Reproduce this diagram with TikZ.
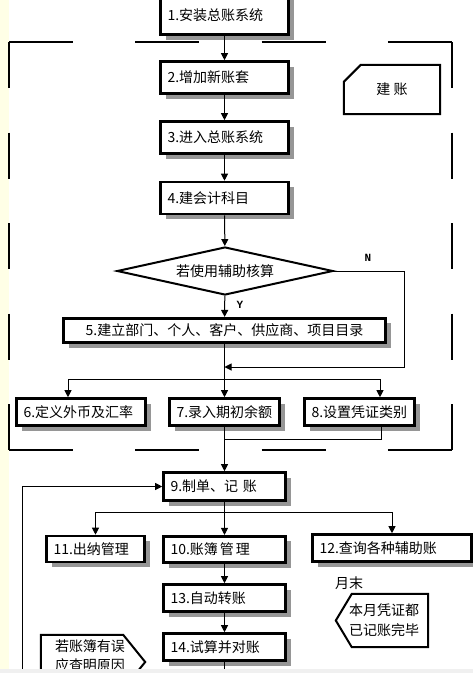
\documentclass[tikz,border=0pt]{standalone}
\usepackage{fontspec}
\setmainfont{Noto Sans CJK SC}
\newfontfamily\ynfont{Liberation Mono}
\usetikzlibrary{shapes.geometric,shadows,arrows.meta}
\definecolor{shgray}{RGB}{150,150,150}
\definecolor{creamy}{RGB}{255,255,230}
\definecolor{lightbar}{RGB}{240,240,240}

\begin{document}
\begin{tikzpicture}[x=1pt,y=-1pt,
  font=\fontsize{14}{20}\selectfont,
  proc/.style={draw, line width=2.6pt, fill=white, text width=#1, align=left,
    inner xsep=7pt, inner ysep=0pt, minimum height=27pt,
    drop shadow={shadow xshift=5pt, shadow yshift=-5pt, fill=shgray, opacity=1}},
  flow/.style={-{Triangle[length=7pt,width=7pt]}, line width=1pt},
  grpline/.style={line width=2.6pt},
  yn/.style={font=\ynfont\bfseries\fontsize{11}{12}\selectfont}]
\useasboundingbox (0,0) rectangle (473,673);
\clip (0,0) rectangle (473,673);
\fill[creamy] (0,0) rectangle (8.5,673);

\draw[grpline, dash pattern=on 64pt off 62.3pt] (9,42) -- (452,42);
\draw[grpline, dash pattern=on 64pt off 62.3pt] (9,450) -- (452,450);
\draw[grpline, dash pattern=on 46pt off 44.5pt] (9,42) -- (9,450);
\draw[grpline, dash pattern=on 46pt off 44.5pt] (452,42) -- (452,450);

\node[proc=114pt, minimum height=40pt] (b1) at (224.5,14.7) {1.安装总账系统};
\node[proc=114pt, minimum height=32pt] (b2) at (224.5,77.5) {2.增加新账套};
\node[proc=114pt, minimum height=32pt] (b3) at (224.5,137.5) {3.进入总账系统};
\node[proc=114pt, minimum height=32pt] (b4) at (224.5,198) {4.建会计科目};
\node[draw, diamond, line width=2pt, inner sep=0pt, aspect=4.5,
  minimum width=216pt, minimum height=48pt] (dia) at (225,271) {若使用辅助核算};
\node[proc=308pt, align=center, minimum height=24.5pt] (b5) at (224.5,330.5) {5.建立部门、个人、客户、供应商、项目目录};
\node[proc=115pt] (b6) at (81,412) {6.定义外币及汇率};
\node[proc=96pt] (b7) at (224.5,412) {7.录入期初余额};
\node[proc=96pt] (b8) at (359.5,412) {8.设置凭证类别};
\node[proc=108pt, minimum height=28pt] (b9) at (224.5,486.5) {9.制单、记\ 账};
\node[proc=84pt, minimum height=26pt] (b11) at (95.5,549) {11.出纳管理};
\node[proc=108pt, minimum height=26.5pt] (b10) at (224.5,549.5) {10.账簿\hspace{2pt}管\hspace{2pt}理};
\node[proc=145pt] (b12) at (392,548) {12.查询各种辅助账};
\node[proc=108pt] (b13) at (224.5,598) {13.自动转账};
\node[proc=108pt] (b14) at (224.5,647) {14.试算并对账};

\node[minimum width=96pt, minimum height=49pt] (jz) at (392,89.5) {建\ 账};
\draw[line width=2pt] ([yshift=-17pt]jz.north west) -- ([xshift=17pt]jz.north west)
  -- (jz.north east) -- (jz.south east) -- (jz.south west) -- cycle;

\node (ym) at (349,583) {月末};
\node[minimum width=92pt, minimum height=53pt, align=center] (yb) at (382,620.5) {\hspace{4pt}本月凭证都\\\hspace{4pt}已记账完毕};
\draw[line width=2pt] ([xshift=16pt]yb.north west) -- (yb.north east) -- (yb.south east)
  -- ([xshift=16pt]yb.south west) -- (yb.west) -- cycle;

\node[minimum width=104pt, minimum height=54pt] (cw) at (93,662) {};
\node[align=center, font=\fontsize{14}{19}\selectfont] (cwt) at (90,656) {若账簿有误\\应查明原因};
\draw[line width=2pt] (cw.north west) -- ([xshift=-22pt]cw.north east) -- (cw.east)
  -- ([xshift=-22pt]cw.south east) -- (cw.south west) -- cycle;

\node[yn] (nlab) at (368,258) {N};
\node[yn] (ylab) at (240,305) {Y};

\coordinate (merge) at (224.5,367);
\coordinate (fork1) at (224.5,379);
\coordinate (join1) at (224.5,439);
\coordinate (fork2) at (224.5,512);
\coordinate (bend) at (404,271);
\coordinate (tail) at (224.5,690);
\coordinate (loop) at (22,690);

\draw[flow] (b1) -- (b2);
\draw[flow] (b2) -- (b3);
\draw[flow] (b3) -- (b4);
\draw[flow] (b4) -- (dia);
\draw[flow] (dia) -- (b5);
\draw[line width=1pt] (dia.east) -- (bend) |- ([xshift=5pt]merge);
\draw[flow] (bend |- merge) -- (merge);
\draw[line width=1pt] (b5) -- (fork1);
\draw[flow] (fork1) -- (b7);
\draw[flow] (fork1) -| ([xshift=-13pt]b6.north);
\draw[flow] (fork1) -| ([xshift=20.5pt]b8.north);
\draw[line width=1pt] ([xshift=21.5pt]b8.south) |- (join1);
\draw[flow] (b7) -- (b9);
\draw[line width=1pt] (b9) -- (fork2);
\draw[flow] (fork2) -- (b10);
\draw[flow] (fork2) -| (b11.north);
\draw[flow] (fork2) -| (b12.north);
\draw[flow] (b10) -- (b13);
\draw[flow] (b13) -- (b14);
\draw[line width=1pt] (b14) -- (tail);
\draw[flow] (loop) |- (b9.west);

\fill[lightbar] (0,669) rectangle (473,673);
\end{tikzpicture}
\end{document}
